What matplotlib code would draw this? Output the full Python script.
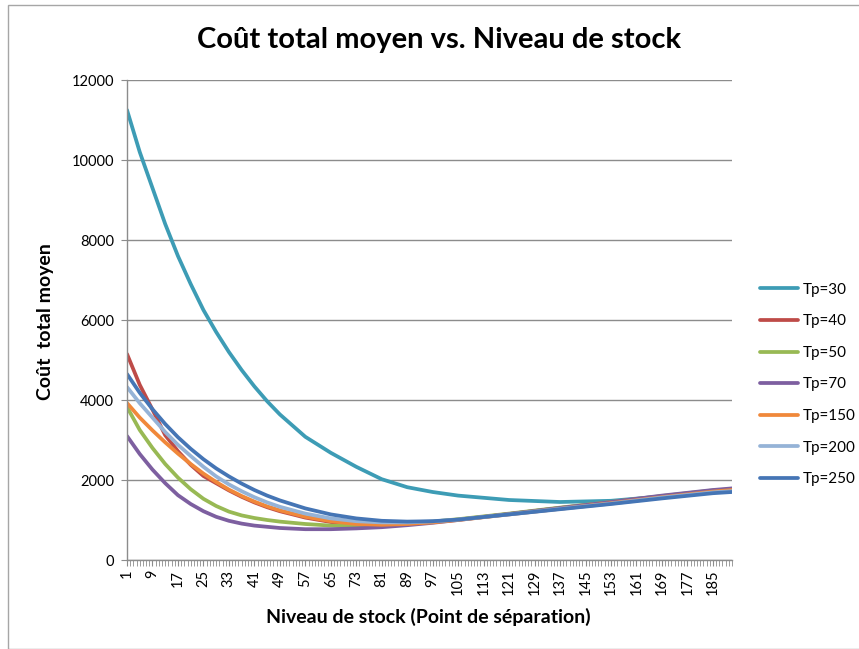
import matplotlib
matplotlib.use("Agg")
import matplotlib.pyplot as plt
from matplotlib.ticker import MultipleLocator, FixedLocator
from matplotlib.patches import Rectangle

# ---- data ----
cats = [1, 5, 9, 13, 17, 21, 25, 29, 33, 37, 41, 45, 49, 57, 65, 73, 81, 89, 97,
        105, 121, 137, 153, 169, 185, 191]
tp30 = [11250, 10200, 9300, 8400, 7600, 6900, 6250, 5700, 5200, 4750, 4340, 3970,
        3640, 3080, 2680, 2330, 2020, 1820, 1700, 1610, 1500, 1450, 1480, 1590,
        1720, 1760]
tp40 = [5150, 4380, 3760, 3120, 2720, 2380, 2100, 1920, 1740, 1580, 1440, 1320,
        1220, 1060, 950, 890, 880, 910, 950, 1010, 1150, 1300, 1440, 1590, 1730, 1770]
tp50 = [3825, 3250, 2800, 2400, 2060, 1770, 1530, 1350, 1210, 1115, 1050, 1000,
        960, 900, 860, 850, 870, 910, 960, 1020, 1160, 1310, 1450, 1600, 1740, 1770]
tp70 = [3100, 2650, 2260, 1920, 1620, 1400, 1220, 1080, 980, 910, 860, 830,
        800, 770, 770, 790, 820, 870, 930, 1000, 1150, 1300, 1450, 1610, 1750, 1790]
tp150 = [3925, 3560, 3240, 2940, 2660, 2400, 2160, 1950, 1760, 1600, 1460, 1340,
         1240, 1080, 970, 900, 880, 900, 940, 1000, 1140, 1280, 1420, 1570, 1710, 1750]
tp200 = [4325, 3920, 3560, 3200, 2880, 2600, 2330, 2090, 1890, 1720, 1570, 1440,
         1330, 1160, 1040, 970, 940, 940, 965, 1010, 1140, 1280, 1410, 1560, 1690, 1720]
tp250 = [4650, 4180, 3770, 3400, 3070, 2780, 2520, 2290, 2090, 1910, 1750, 1610,
         1490, 1290, 1140, 1040, 980, 960, 970, 1010, 1140, 1270, 1400, 1540, 1670, 1700]

series_names = ["Tp=30", "Tp=40", "Tp=50", "Tp=70", "Tp=150", "Tp=200", "Tp=250"]
series_vals = [tp30, tp40, tp50, tp70, tp150, tp200, tp250]
colors = ["#3D9CB5", "#BE4B48", "#98B954", "#7D5FA0", "#F0883A", "#95B3D7", "#4575B5"]

yticks = [0, 2000, 4000, 6000, 8000, 10000, 12000]
xtick_labels = list(range(1, 186, 8))

# ---- figure ----
plt.rcParams['font.family'] = ['Lato', 'DejaVu Sans']
fig = plt.figure(figsize=(8.59, 6.49), dpi=100)
fig.patches.append(Rectangle((8 / 859, 0), 1.0, 1 - 5 / 649, transform=fig.transFigure,
                             fill=False, edgecolor="#A6A6A6", linewidth=1.0))

ax = fig.add_axes([127 / 859, 1 - 560 / 649, 605 / 859, 480 / 649])
for name, vals, c in zip(series_names, series_vals, colors):
    ax.plot(cats, vals, color=c, linewidth=2.7, label=name, solid_capstyle='round')

ax.set_xlim(1, 191)
ax.set_ylim(0, 12000)
ax.set_yticks(yticks)
ax.set_yticklabels([str(v) for v in yticks], fontsize=10.5)
ax.yaxis.grid(True, color="#8C8C8C", linewidth=1.0)
ax.set_axisbelow(True)

ax.xaxis.set_major_locator(FixedLocator(xtick_labels))
ax.set_xticklabels([str(v) for v in xtick_labels], rotation=90, fontsize=10.5)
ax.xaxis.set_minor_locator(MultipleLocator(1))
ax.tick_params(axis='x', which='both', direction='out', length=4, color="#8C8C8C", pad=3)
ax.tick_params(axis='y', direction='out', length=4.3, color="#8C8C8C", pad=5)

for s in ["top", "right"]:
    ax.spines[s].set_visible(False)
for s in ["left", "bottom"]:
    ax.spines[s].set_color("#8C8C8C")
    ax.spines[s].set_linewidth(1.0)

fig.text(439 / 859, 1 - 40 / 649, "Coût total moyen vs. Niveau de stock",
         ha="center", va="center", fontsize=21, fontweight="bold")
fig.text(428 / 859, 1 - 617 / 649, "Niveau de stock (Point de séparation)",
         ha="center", va="center", fontsize=14, fontweight="bold")
fig.text(46 / 859, 1 - 322 / 649, "Coût  total moyen", rotation=90,
         ha="center", va="center", fontsize=14, fontweight="bold")

fig.legend(loc="center left", bbox_to_anchor=(754 / 859, 1 - 384.5 / 649),
           frameon=False, fontsize=11, labelspacing=1.15, handlelength=2.5,
           handletextpad=0.3, borderaxespad=0)

fig.savefig("out.png", dpi=100)
